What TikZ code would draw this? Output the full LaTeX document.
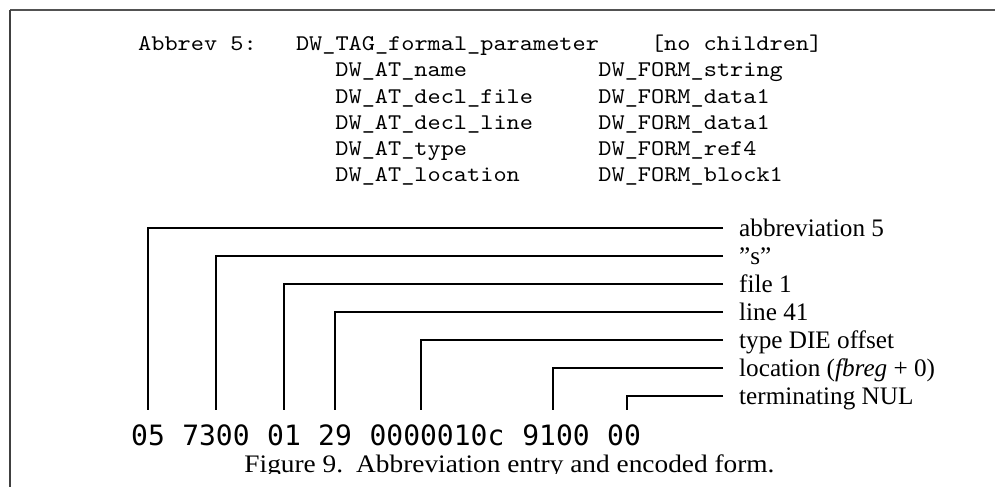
\documentclass[tikz,border=0pt]{standalone}
\usepackage{fontspec}
\setmainfont{Liberation Serif}
\newfontfamily\codefam{lmmono10-regular}[Extension=.otf, FakeStretch=1.12]
\newfontfamily\numfam{DejaVu Sans Mono}
\newfontfamily\capfam[FakeStretch=1.085]{Liberation Serif}
\begin{document}
\begin{tikzpicture}[x=1pt,y=-1pt,
  code/.style={font=\codefam\fontsize{22.4pt}{26pt}\selectfont, anchor=base west, inner sep=0pt},
  lab/.style={font=\fontsize{25.2pt}{30pt}\selectfont, anchor=west, inner xsep=16pt, inner ysep=0pt, text height=17pt, text depth=0pt},
  num/.style={font=\numfam\fontsize{28pt}{32pt}\selectfont, anchor=base, inner xsep=0pt, inner ysep=14pt, text height=20.5pt, text depth=0pt},
  conn/.style={line width=2pt, black},
  capt/.style={font=\capfam\fontsize{25.2pt}{30pt}\selectfont, anchor=base, inner sep=0pt}
]
\useasboundingbox (0,0) rectangle (995,487);
\fill[white] (0,0) rectangle (995,487);
\draw[line width=2pt, black!68] (10,10) -- (995,10);
\draw[line width=1.4pt, black!75] (10,10) -- (10,487);

% abbreviation table (monospace columns: x = 138 + col*13.15)
\node[code] (abbr)    at (138,51)    {Abbrev 5:};
\node[code] (tag)     at (295.8,51)  {DW\_TAG\_formal\_parameter};
\node[code] (nochild) at (650.85,51) {[no children]};
\node[code] (at1) at (335.25,77)  {DW\_AT\_name};
\node[code] (fm1) at (598.25,77)  {DW\_FORM\_string};
\node[code] (at2) at (335.25,103) {DW\_AT\_decl\_file};
\node[code] (fm2) at (598.25,103) {DW\_FORM\_data1};
\node[code] (at3) at (335.25,129) {DW\_AT\_decl\_line};
\node[code] (fm3) at (598.25,129) {DW\_FORM\_data1};
\node[code] (at4) at (335.25,155) {DW\_AT\_type};
\node[code] (fm4) at (598.25,155) {DW\_FORM\_ref4};
\node[code] (at5) at (335.25,181) {DW\_AT\_location};
\node[code] (fm5) at (598.25,181) {DW\_FORM\_block1};

% labels
\node[lab] (l1) at (723,228) {abbreviation 5};
\node[lab] (l2) at (723,256) {”s”};
\node[lab] (l3) at (723,284) {file 1};
\node[lab] (l4) at (723,312) {line 41};
\node[lab] (l5) at (723,340) {type DIE offset};
\node[lab] (l6) at (723,368) {location (\textit{fbreg} + 0)};
\node[lab] (l7) at (723,396) {terminating NUL};

% encoded bytes
\node[num] (b1) at (148,445) {05};
\node[num] (b2) at (216,445) {7300};
\node[num] (b3) at (284,445) {01};
\node[num] (b4) at (335,445) {29};
\node[num] (b5) at (437,445) {0000010c};
\node[num] (b6) at (556,445) {9100};
\node[num] (b7) at (624,445) {00};

% connectors
\draw[conn] (l1.west) -| (b1.north);
\draw[conn] (l2.west) -| (b2.north);
\draw[conn] (l3.west) -| (b3.north);
\draw[conn] (l4.west) -| (b4.north);
\draw[conn] (l5.west) -| ([xshift=-16pt]b5.north);
\draw[conn] (l6.west) -| ([xshift=-3pt]b6.north);
\draw[conn] (l7.west) -| ([xshift=3pt]b7.north);

% caption (clipped at the bottom as in the reference)
\begin{scope}
  \clip (0,0) rectangle (995,473.5);
  \node[capt] (cap) at (509.5,472) {Figure 9.\hspace{13pt}Abbreviation entry and encoded form.};
\end{scope}
\end{tikzpicture}
\end{document}
